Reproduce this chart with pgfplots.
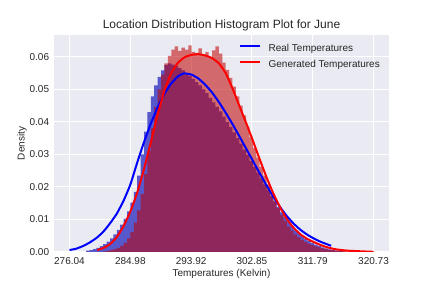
\documentclass[border=0pt]{standalone}
\usepackage{fontspec}
\setmainfont{Liberation Sans}
\usepackage{pgfplots}
\pgfplotsset{compat=1.18}
\definecolor{bg}{RGB}{234,234,242}
\definecolor{txt}{RGB}{38,38,38}
\definecolor{realfill}{RGB}{88,88,205}
\definecolor{genfill}{RGB}{190,0,0}
\begin{document}
\begin{tikzpicture}
\path[use as bounding box] (-54.3pt,-36pt) rectangle (377.7pt,252pt);
\begin{axis}[
  at={(0,0)}, anchor=south west,
  scale only axis, width=334.4pt, height=217pt,
  xmin=273.81, xmax=322.96, ymin=0, ymax=0.0667,
  axis background/.style={fill=bg},
  axis line style={draw=none},
  grid=major, major grid style={white, line width=1pt},
  tick style={draw=none},
  xtick={276.04,284.98,293.92,302.85,311.79,320.73},
  xticklabels={276.04,284.98,293.92,302.85,311.79,320.73},
  ytick={0,0.01,0.02,0.03,0.04,0.05,0.06},
  yticklabel style={/pgf/number format/fixed, /pgf/number format/fixed zerofill, /pgf/number format/precision=2, /pgf/number format/assume math mode=true},
  scaled y ticks=false,
  ticklabel style={font=\fontsize{10}{12}\selectfont, text=txt},
  xticklabel style={anchor=north, inner sep=0pt, yshift=-5pt},
  yticklabel style={anchor=east, inner sep=0pt, xshift=-5pt},
  title={Location Distribution Histogram Plot for June},
  title style={font=\fontsize{12}{14}\selectfont, text=txt, at={(0.5,1)}, anchor=base},
  xlabel={Temperatures (Kelvin)},
  xlabel style={font=\fontsize{10}{12}\selectfont, text=txt, at={(0.5,0)}, anchor=center, yshift=-22pt, inner sep=0pt},
  ylabel={Density},
  ylabel style={font=\fontsize{10}{12}\selectfont, text=txt, at={(0,0.5)}, anchor=center, yshift=32.3pt, inner sep=0pt},
  legend style={draw=none, fill=none, at={(1,1)}, anchor=north east, xshift=-8.7pt, yshift=-9.5pt,
    font=\fontsize{10}{12}\selectfont, text=txt, row sep=6.4pt, inner sep=0pt,
    nodes={inner sep=0pt, text height=7pt, text depth=2pt}},
  legend cell align=left,
  legend image code/.code={\draw[#1] (0pt,3pt) -- (20pt,3pt);},
  /tikz/every odd column/.style={column sep=7.5pt},
]
% real histogram
\addplot[const plot, fill=realfill, draw=none, forget plot] coordinates {
(278.5,0.0004) (279.0,0.0006) (279.5,0.0009) (280.0,0.0013) (280.5,0.0018)
(281.0,0.0024) (281.5,0.0032) (282.0,0.0042) (282.5,0.0054) (283.0,0.0068)
(283.5,0.0084) (284.0,0.0102) (284.5,0.0125) (285.0,0.0152) (285.5,0.0185)
(286.0,0.0235) (286.5,0.0300) (287.0,0.0370) (287.5,0.0430) (288.0,0.0478)
(288.5,0.0512) (289.0,0.0538) (289.5,0.0558) (290.0,0.0575) (290.5,0.0580)
(291.0,0.0576) (291.5,0.0571) (292.0,0.0565) (292.5,0.0558) (293.0,0.0550)
(293.5,0.0541) (294.0,0.0532) (294.5,0.0522) (295.0,0.0512) (295.5,0.0500)
(296.0,0.0488) (296.5,0.0474) (297.0,0.0460) (297.5,0.0446) (298.0,0.0432)
(298.5,0.0416) (299.0,0.0400) (299.5,0.0384) (300.0,0.0368) (300.5,0.0350)
(301.0,0.0333) (301.5,0.0315) (302.0,0.0298) (302.5,0.0280) (303.0,0.0262)
(303.5,0.0244) (304.0,0.0226) (304.5,0.0208) (305.0,0.0190) (305.5,0.0172)
(306.0,0.0155) (306.5,0.0138) (307.0,0.0122) (307.5,0.0107) (308.0,0.0093)
(308.5,0.0080) (309.0,0.0068) (309.5,0.0058) (310.0,0.0049) (310.5,0.0041)
(311.0,0.0034) (311.5,0.0028) (312.0,0.0023) (312.5,0.0018) (313.0,0.0014)
(313.5,0.0011) (314.0,0.0008) (314.5,0.0006) (315.0,0.0004) (315.5,0.0003)
(316.0,0.0002) (316.5,0)
} \closedcycle;
% generated histogram
\addplot[const plot, fill=genfill, fill opacity=0.55, draw=none, forget plot] coordinates {
(281.0,0.0002) (281.5,0.0004) (282.0,0.0006) (282.5,0.0009) (283.0,0.0013)
(283.5,0.0019) (284.0,0.0028) (284.5,0.0042) (285.0,0.0062) (285.5,0.0090)
(286.0,0.0128) (286.5,0.0178) (287.0,0.0240) (287.5,0.0310) (288.0,0.0380)
(288.5,0.0445) (289.0,0.0500) (289.5,0.0545) (290.0,0.0580) (290.5,0.0603)
(291.0,0.0622) (291.5,0.0632) (292.0,0.0618) (292.5,0.0628) (293.0,0.0622)
(293.5,0.0635) (294.0,0.0615) (294.5,0.0612) (295.0,0.0626) (295.5,0.0604)
(296.0,0.0614) (296.5,0.0598) (297.0,0.0620) (297.5,0.0632) (298.0,0.0610)
(298.5,0.0582) (299.0,0.0560) (299.5,0.0535) (300.0,0.0508) (300.5,0.0478)
(301.0,0.0450) (301.5,0.0420) (302.0,0.0385) (302.5,0.0352) (303.0,0.0320)
(303.5,0.0290) (304.0,0.0262) (304.5,0.0235) (305.0,0.0208) (305.5,0.0182)
(306.0,0.0158) (306.5,0.0135) (307.0,0.0113) (307.5,0.0095) (308.0,0.0079)
(308.5,0.0066) (309.0,0.0054) (309.5,0.0045) (310.0,0.0037) (310.5,0.0031)
(311.0,0.0026) (311.5,0.0021) (312.0,0.0017) (312.5,0.0014) (313.0,0.0011)
(313.5,0.0009) (314.0,0.0007) (314.5,0.0006) (315.0,0.0005) (315.5,0.0004)
(316.0,0.0003) (316.5,0.0002) (317.0,0.0002) (317.5,0.0001) (318.0,0.0001)
(318.5,0)
} \closedcycle;
% real curve
\addplot[blue, line width=2pt, smooth, tension=0.3] coordinates {
(276.04,0.0006) (277.0,0.0010) (278.0,0.0018) (279.0,0.0029) (280.0,0.0043)
(281.0,0.0062) (282.0,0.0088) (283.0,0.0118) (284.0,0.0158) (285.0,0.0208)
(286.0,0.0275) (287.0,0.0338) (288.0,0.0395) (289.0,0.0445) (290.0,0.0487)
(291.0,0.0518) (292.0,0.0540) (292.9,0.0549) (294.0,0.0545) (295.0,0.0533)
(296.0,0.0514) (297.0,0.0490) (298.0,0.0461) (299.0,0.0428) (300.0,0.0393)
(301.0,0.0356) (302.0,0.0318) (303.0,0.0280) (304.0,0.0242) (305.0,0.0205)
(306.0,0.0170) (307.0,0.0138) (308.0,0.0110) (309.0,0.0087) (310.0,0.0068)
(311.0,0.0053) (312.0,0.0041) (313.0,0.0031) (314.0,0.0023) (314.5,0.0019)
};
\addlegendentry{Real Temperatures}
% generated curve
\addplot[red, line width=2pt, smooth, tension=0.3] coordinates {
(280.1,0.0006) (281.0,0.0012) (282.0,0.0024) (283.0,0.0046) (284.0,0.0080)
(285.0,0.0125) (286.0,0.0183) (287.0,0.0255) (288.0,0.0338) (289.0,0.0422)
(290.0,0.0497) (291.0,0.0550) (292.0,0.0582) (293.0,0.0599) (294.0,0.0606)
(295.0,0.0608) (296.0,0.0604) (297.0,0.0596) (298.0,0.0580) (299.0,0.0550)
(300.0,0.0503) (301.0,0.0450) (302.0,0.0397) (303.0,0.0342) (304.0,0.0285)
(305.0,0.0230) (306.0,0.0180) (307.0,0.0137) (308.0,0.0101) (309.0,0.0074)
(310.0,0.0054) (311.0,0.0040) (312.0,0.0030) (313.0,0.0021) (314.0,0.0014)
(315.0,0.0009) (316.0,0.0006) (317.0,0.0004) (318.0,0.0003) (319.0,0.0002)
(320.73,0.00005)
};
\addlegendentry{Generated Temperatures}
\end{axis}
\end{tikzpicture}
\end{document}
